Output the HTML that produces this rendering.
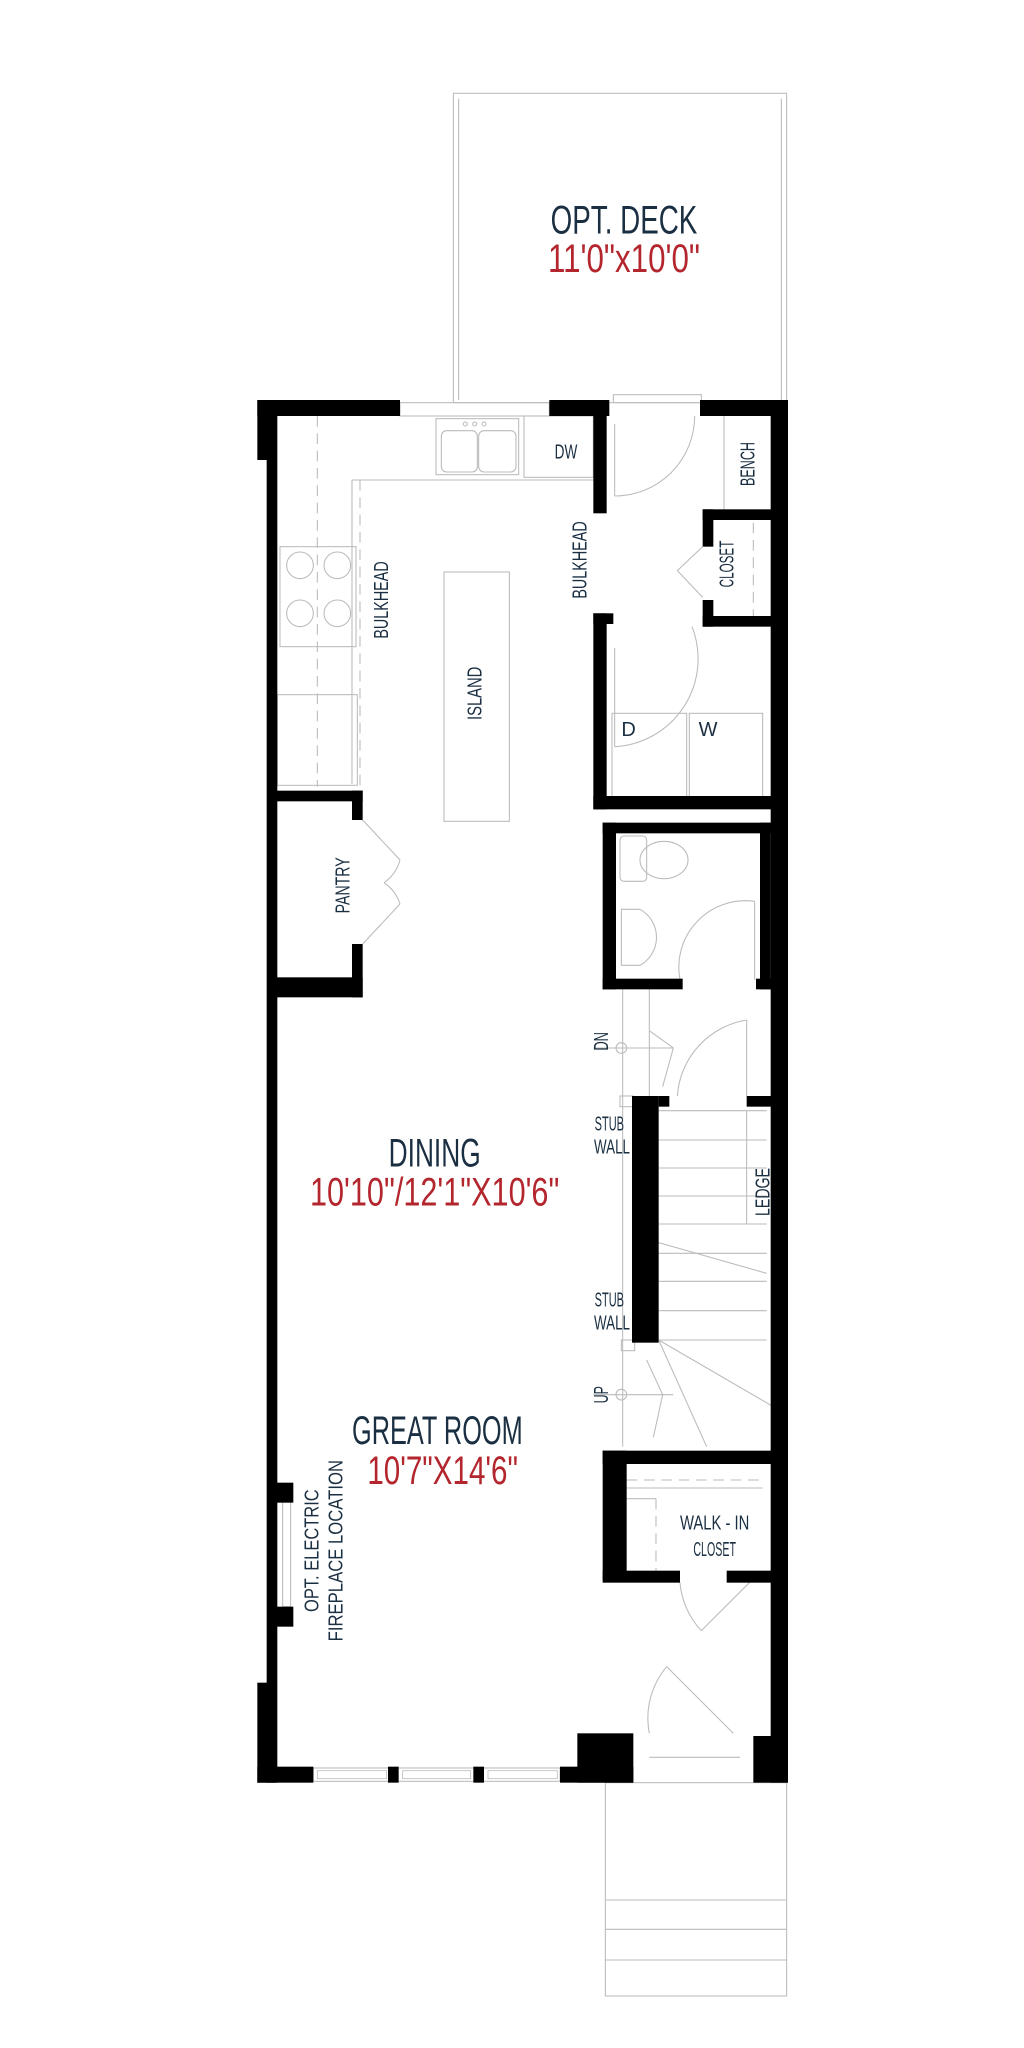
<!DOCTYPE html>
<html><head><meta charset="utf-8"><style>
html,body{margin:0;padding:0;background:#fff}
svg{display:block}
text{font-family:"Liberation Sans Narrow","Liberation Sans",sans-serif}
.n{fill:#1b2f42}.r{fill:#b3262e}
</style></head><body>
<svg width="1024" height="2048" viewBox="0 0 768 1536" xmlns="http://www.w3.org/2000/svg">
<g fill="none" stroke="#bbb" stroke-width="0.8">
<rect x="340" y="70" width="250" height="232"/>
<line x1="344" y1="74" x2="344" y2="300"/><line x1="586" y1="74" x2="586" y2="300"/>
<rect x="454" y="1337" width="136" height="160"/>
<line x1="454" y1="1425" x2="590" y2="1425"/><line x1="454" y1="1447" x2="590" y2="1447"/><line x1="454" y1="1470" x2="590" y2="1470"/>
<line x1="264" y1="360" x2="445" y2="360"/><line x1="264" y1="360" x2="264" y2="588"/>
<line x1="238" y1="312" x2="238" y2="590" stroke-dasharray="8,5"/>
<line x1="270" y1="360" x2="270" y2="590" stroke-dasharray="8,5"/>
<rect x="210" y="410" width="57" height="75"/>
<circle cx="225" cy="424" r="10"/><circle cx="253" cy="424" r="10"/><circle cx="225" cy="460" r="10"/><circle cx="253" cy="460" r="10"/>
<rect x="208" y="521" width="60" height="68"/>
<rect x="327" y="314" width="62" height="42"/><rect x="331" y="323" width="27" height="31" rx="4"/><rect x="359" y="323" width="28" height="31" rx="4"/>
<circle cx="349" cy="318" r="1.5"/><circle cx="356" cy="318" r="1.5"/><circle cx="363" cy="318" r="1.5"/>
<rect x="393" y="312" width="52" height="46"/>
<rect x="333" y="429" width="49" height="187"/>
<rect x="300" y="302" width="112" height="10"/>
<path d="M272 615 L300 645 M272 708 L300 678 M300 645 A30 30 0 0 1 288 662 M300 678 A30 30 0 0 0 288 662"/>
<rect x="460" y="296" width="66" height="6"/>
<path d="M461 318 V372 M461 372 A60 60 0 0 0 521 312"/>
<path d="M461 486 V560 M461 560 A66 66 0 0 0 519 470"/>
<path d="M527 410 L508 428 L527 448"/>
<line x1="543" y1="312" x2="543" y2="382"/>
<line x1="565" y1="392" x2="565" y2="462" stroke-dasharray="8,5"/>
<rect x="459" y="535" width="56" height="63"/><rect x="517" y="535" width="55" height="63"/>
<rect x="465" y="627" width="20" height="34" rx="3"/><ellipse cx="498" cy="645" rx="18" ry="14"/>
<path d="M466 682 H480 A24 24 0 0 1 480 724 H466 Z"/>
<path d="M510 735 A50 50 0 0 1 566 676 M566 676 V735"/>
<line x1="467" y1="742" x2="467" y2="1085"/><line x1="487" y1="742" x2="487" y2="822"/>
<line x1="445" y1="786" x2="505" y2="786"/><circle cx="466" cy="786" r="4"/>
<path d="M508 822 A62 62 0 0 1 560 765 M560 765 V822"/>
<path d="M494 833 H575 M494 855 H575 M494 876 H575 M494 897 H575 M494 918 H575 M494 940 H575 M494 961 H575 M494 983 H575 M494 1005 H575"/>
<line x1="560" y1="833" x2="560" y2="918"/>
<path d="M494 932 L575 955 M494 1005 L580 1055 M494 1005 L530 1085"/>
<line x1="445" y1="1046" x2="505" y2="1046"/><circle cx="466" cy="1046" r="4"/>
<path d="M487 773 L505 786 L497 815 M485 1020 L497 1046 L490 1078"/>
<rect x="465" y="822" width="10" height="8"/><rect x="466" y="1005" width="10" height="8"/>
<line x1="470" y1="1110" x2="572" y2="1110" stroke-dasharray="8,5"/><line x1="470" y1="1116" x2="572" y2="1116"/>
<line x1="470" y1="1124" x2="492" y2="1124"/><line x1="492" y1="1124" x2="492" y2="1178" stroke-dasharray="8,5"/>
<path d="M510 1187 A60 60 0 0 0 526 1223 L566 1183"/>
<path d="M550 1300 L500 1250 M500 1250 A60 60 0 0 0 487 1300"/>
<line x1="487" y1="1318" x2="555" y2="1318"/>
<rect x="212" y="1117" width="6" height="88"/>
<rect x="235" y="1326" width="185" height="10"/>
</g>
<g fill="#000">
<rect x="193" y="300" width="107" height="12"/>
<rect x="193" y="300" width="14" height="45"/>
<rect x="200" y="300" width="8" height="1037"/>
<rect x="193" y="1262" width="14" height="75"/>
<rect x="207" y="1112" width="13" height="15"/><rect x="207" y="1205" width="13" height="15"/>
<rect x="412" y="300" width="45" height="12"/>
<rect x="525" y="300" width="66" height="12"/>
<rect x="578" y="300" width="13" height="1037"/>
<rect x="193" y="1325" width="42" height="12"/>
<rect x="291" y="1325" width="8" height="12"/><rect x="355" y="1325" width="8" height="12"/>
<rect x="420" y="1325" width="55" height="12"/><rect x="433" y="1300" width="42" height="37"/>
<rect x="565" y="1302" width="26" height="35"/>
<rect x="445" y="312" width="10" height="73"/>
<rect x="445" y="460" width="10" height="147"/>
<rect x="445" y="597" width="135" height="10"/>
<rect x="527" y="382" width="53" height="8"/><rect x="527" y="382" width="8" height="28"/>
<rect x="527" y="462" width="53" height="8"/><rect x="527" y="450" width="8" height="20"/>
<rect x="445" y="460" width="15" height="8"/>
<rect x="452" y="617" width="128" height="8"/><rect x="452" y="617" width="10" height="125"/>
<rect x="452" y="734" width="60" height="8"/><rect x="567" y="734" width="13" height="8"/><rect x="570" y="617" width="8" height="125"/>
<rect x="474" y="822" width="20" height="185"/><rect x="494" y="822" width="8" height="8"/><rect x="560" y="822" width="20" height="8"/>
<rect x="452" y="1088" width="128" height="10"/><rect x="452" y="1088" width="18" height="97"/>
<rect x="452" y="1178" width="58" height="9"/><rect x="545" y="1178" width="35" height="9"/>
<rect x="207" y="593" width="65" height="8"/><rect x="264" y="593" width="8" height="22"/>
<rect x="207" y="733" width="65" height="15"/><rect x="264" y="708" width="8" height="40"/>
</g>
<g fill="#fff" stroke="#bbb" stroke-width="0.6">
<rect x="238" y="1328" width="52" height="6"/><rect x="302" y="1328" width="51" height="6"/><rect x="366" y="1328" width="52" height="6"/>
</g>
<g class="n" text-anchor="middle">
<text x="468" y="175" font-size="30" textLength="110" lengthAdjust="spacingAndGlyphs">OPT. DECK</text>
<text x="416" y="344" font-size="15" text-anchor="start" textLength="17" lengthAdjust="spacingAndGlyphs">DW</text>
<text x="466" y="552" font-size="15" text-anchor="start">D</text><text x="524" y="552" font-size="15" text-anchor="start">W</text>
<text x="326" y="875" font-size="30" textLength="69" lengthAdjust="spacingAndGlyphs">DINING</text>
<text x="328" y="1083" font-size="30" textLength="128" lengthAdjust="spacingAndGlyphs">GREAT ROOM</text>
<text x="536" y="1147" font-size="15" textLength="52" lengthAdjust="spacingAndGlyphs">WALK - IN</text>
<text x="536" y="1167" font-size="15" textLength="32" lengthAdjust="spacingAndGlyphs">CLOSET</text>
<text x="457" y="848" font-size="15" textLength="22" lengthAdjust="spacingAndGlyphs">STUB</text><text x="459" y="865" font-size="15" textLength="27" lengthAdjust="spacingAndGlyphs">WALL</text>
<text x="457" y="980" font-size="15" textLength="22" lengthAdjust="spacingAndGlyphs">STUB</text><text x="459" y="997" font-size="15" textLength="27" lengthAdjust="spacingAndGlyphs">WALL</text>
<text transform="translate(291,450) rotate(-90)" font-size="15" textLength="58" lengthAdjust="spacingAndGlyphs">BULKHEAD</text>
<text transform="translate(440,420) rotate(-90)" font-size="15" textLength="58" lengthAdjust="spacingAndGlyphs">BULKHEAD</text>
<text transform="translate(361,520) rotate(-90)" font-size="15" textLength="40" lengthAdjust="spacingAndGlyphs">ISLAND</text>
<text transform="translate(566,348) rotate(-90)" font-size="15" textLength="33" lengthAdjust="spacingAndGlyphs">BENCH</text>
<text transform="translate(550,423) rotate(-90)" font-size="15" textLength="35" lengthAdjust="spacingAndGlyphs">CLOSET</text>
<text transform="translate(262,664) rotate(-90)" font-size="15" textLength="42" lengthAdjust="spacingAndGlyphs">PANTRY</text>
<text transform="translate(456,781) rotate(-90)" font-size="15" textLength="14" lengthAdjust="spacingAndGlyphs">DN</text>
<text transform="translate(456,1046) rotate(-90)" font-size="15" textLength="13" lengthAdjust="spacingAndGlyphs">UP</text>
<text transform="translate(577,894) rotate(-90)" font-size="15" textLength="36" lengthAdjust="spacingAndGlyphs">LEDGE</text>
<text transform="translate(239,1163) rotate(-90)" font-size="15" textLength="92" lengthAdjust="spacingAndGlyphs">OPT. ELECTRIC</text>
<text transform="translate(257,1163) rotate(-90)" font-size="15" textLength="136" lengthAdjust="spacingAndGlyphs">FIREPLACE LOCATION</text>
</g>
<g class="r" text-anchor="middle">
<text x="468" y="204" font-size="30" textLength="114" lengthAdjust="spacingAndGlyphs">11'0"x10'0"</text>
<text x="326" y="904" font-size="30" textLength="187" lengthAdjust="spacingAndGlyphs">10'10"/12'1"X10'6"</text>
<text x="332" y="1113" font-size="30" textLength="113" lengthAdjust="spacingAndGlyphs">10'7"X14'6"</text>
</g>
</svg>
</body></html>
